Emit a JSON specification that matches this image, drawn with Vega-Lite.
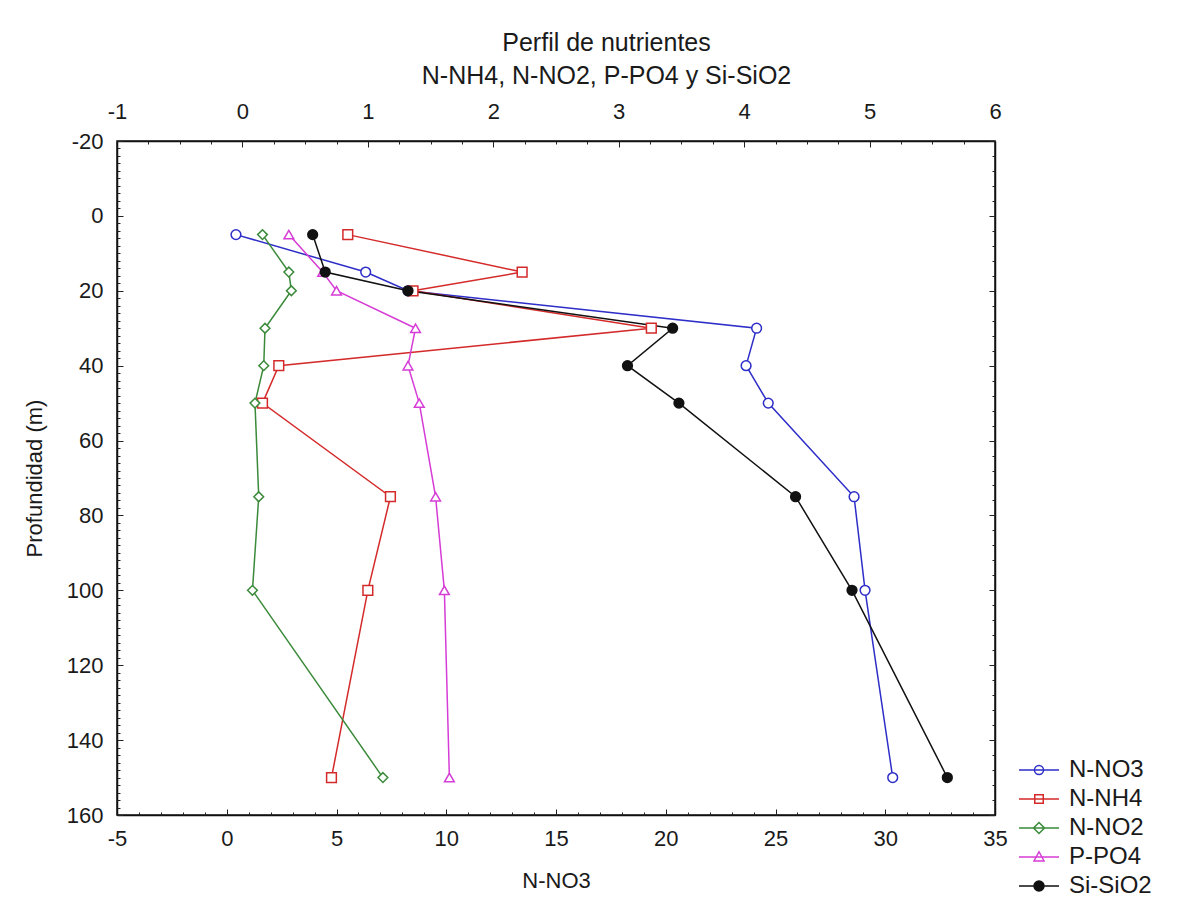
{
  "$schema": "https://vega.github.io/schema/vega-lite/v6.json",
  "autosize": "none",
  "width": 878,
  "height": 674,
  "padding": {"left": 117, "top": 141, "right": 208, "bottom": 91},
  "background": "white",
  "data": {"values": [
    {"series": "N-NO3", "depth": 5, "value": 0.42},
    {"series": "N-NO3", "depth": 15, "value": 6.33},
    {"series": "N-NO3", "depth": 20, "value": 8.26},
    {"series": "N-NO3", "depth": 30, "value": 24.14},
    {"series": "N-NO3", "depth": 40, "value": 23.66},
    {"series": "N-NO3", "depth": 50, "value": 24.67},
    {"series": "N-NO3", "depth": 75, "value": 28.58},
    {"series": "N-NO3", "depth": 100, "value": 29.08},
    {"series": "N-NO3", "depth": 150, "value": 30.34},
    {"series": "N-NH4", "depth": 5, "value": 0.84},
    {"series": "N-NH4", "depth": 15, "value": 2.23},
    {"series": "N-NH4", "depth": 20, "value": 1.36},
    {"series": "N-NH4", "depth": 30, "value": 3.26},
    {"series": "N-NH4", "depth": 40, "value": 0.29},
    {"series": "N-NH4", "depth": 50, "value": 0.16},
    {"series": "N-NH4", "depth": 75, "value": 1.18},
    {"series": "N-NH4", "depth": 100, "value": 1.0},
    {"series": "N-NH4", "depth": 150, "value": 0.71},
    {"series": "N-NO2", "depth": 5, "value": 0.16},
    {"series": "N-NO2", "depth": 15, "value": 0.37},
    {"series": "N-NO2", "depth": 20, "value": 0.39},
    {"series": "N-NO2", "depth": 30, "value": 0.18},
    {"series": "N-NO2", "depth": 40, "value": 0.17},
    {"series": "N-NO2", "depth": 50, "value": 0.1},
    {"series": "N-NO2", "depth": 75, "value": 0.13},
    {"series": "N-NO2", "depth": 100, "value": 0.08},
    {"series": "N-NO2", "depth": 150, "value": 1.12},
    {"series": "P-PO4", "depth": 5, "value": 0.37},
    {"series": "P-PO4", "depth": 15, "value": 0.64},
    {"series": "P-PO4", "depth": 20, "value": 0.75},
    {"series": "P-PO4", "depth": 30, "value": 1.38},
    {"series": "P-PO4", "depth": 40, "value": 1.32},
    {"series": "P-PO4", "depth": 50, "value": 1.41},
    {"series": "P-PO4", "depth": 75, "value": 1.54},
    {"series": "P-PO4", "depth": 100, "value": 1.61},
    {"series": "P-PO4", "depth": 150, "value": 1.65},
    {"series": "Si-SiO2", "depth": 5, "value": 0.56},
    {"series": "Si-SiO2", "depth": 15, "value": 0.66},
    {"series": "Si-SiO2", "depth": 20, "value": 1.32},
    {"series": "Si-SiO2", "depth": 30, "value": 3.43},
    {"series": "Si-SiO2", "depth": 40, "value": 3.07},
    {"series": "Si-SiO2", "depth": 50, "value": 3.48},
    {"series": "Si-SiO2", "depth": 75, "value": 4.41},
    {"series": "Si-SiO2", "depth": 100, "value": 4.86},
    {"series": "Si-SiO2", "depth": 150, "value": 5.62}
  ]},
  "layer": [
    {
      "transform": [{"filter": "datum.series == 'N-NO3'"}],
      "mark": {"type": "line", "strokeWidth": 1.5},
      "encoding": {
        "x": {"field": "value", "type": "quantitative",
              "scale": {"domain": [-5, 35], "nice": false, "zero": false},
              "axis": {"orient": "bottom", "title": "N-NO3", "values": [-5, 0, 5, 10, 15, 20, 25, 30, 35],
                       "labelExpr": "'' + datum.value", "tickSize": -6, "labelPadding": 19, "titlePadding": 21, "grid": false}},
        "y": {"field": "depth", "type": "quantitative",
              "scale": {"domain": [-20, 160], "nice": false, "zero": false, "reverse": true},
              "axis": {"orient": "left", "title": "Profundidad (m)", "values": [-20, 0, 20, 40, 60, 80, 100, 120, 140, 160],
                       "labelExpr": "'' + datum.value", "tickSize": -6, "labelPadding": 20, "titlePadding": 20, "grid": false}},
        "order": {"field": "depth", "type": "quantitative"},
        "stroke": {"field": "series", "type": "nominal",
                   "scale": {"domain": ["N-NO3", "N-NH4", "N-NO2", "P-PO4", "Si-SiO2"], "range": ["#2e2ec8", "#d42a2a", "#3a8a3a", "#d63cd6", "#111111"]},
                   "legend": null}
      }
    },
    {
      "transform": [{"filter": "datum.series == 'N-NO3'"}],
      "mark": {"type": "point", "size": 95, "strokeWidth": 1.5, "opacity": 1},
      "encoding": {
        "x": {"field": "value", "type": "quantitative",
              "scale": {"domain": [-5, 35], "nice": false, "zero": false},
              "axis": {"orient": "bottom", "title": null, "labels": false, "domain": false, "tickSize": -3, "grid": false,
                       "values": [-5,-4,-3,-2,-1,0,1,2,3,4,5,6,7,8,9,10,11,12,13,14,15,16,17,18,19,20,21,22,23,24,25,26,27,28,29,30,31,32,33,34,35]}},
        "y": {"field": "depth", "type": "quantitative",
              "scale": {"domain": [-20, 160], "nice": false, "zero": false, "reverse": true},
              "axis": {"orient": "left", "title": null, "labels": false, "domain": false, "tickSize": -3, "grid": false,
                       "values": [-20,-18,-16,-14,-12,-10,-8,-6,-4,-2,0,2,4,6,8,10,12,14,16,18,20,22,24,26,28,30,32,34,36,38,40,42,44,46,48,50,52,54,56,58,60,62,64,66,68,70,72,74,76,78,80,82,84,86,88,90,92,94,96,98,100,102,104,106,108,110,112,114,116,118,120,122,124,126,128,130,132,134,136,138,140,142,144,146,148,150,152,154,156,158,160]}},
        "shape": {"field": "series", "type": "nominal",
                  "scale": {"domain": ["N-NO3", "N-NH4", "N-NO2", "P-PO4", "Si-SiO2"], "range": ["circle", "square", "diamond", "triangle-up", "circle"]},
                  "legend": null},
        "stroke": {"field": "series", "type": "nominal",
                   "scale": {"domain": ["N-NO3", "N-NH4", "N-NO2", "P-PO4", "Si-SiO2"], "range": ["#2e2ec8", "#d42a2a", "#3a8a3a", "#d63cd6", "#111111"]},
                   "legend": null},
        "fill": {"field": "series", "type": "nominal",
                 "scale": {"domain": ["N-NO3", "N-NH4", "N-NO2", "P-PO4", "Si-SiO2"], "range": ["white", "white", "white", "white", "#111111"]},
                 "legend": null}
      }
    },
    {
      "transform": [{"filter": "datum.series != 'N-NO3'"}],
      "mark": {"type": "line", "strokeWidth": 1.5},
      "encoding": {
        "x": {"field": "value", "type": "quantitative",
              "scale": {"domain": [-1, 6], "nice": false, "zero": false},
              "axis": {"orient": "top", "title": ["Perfil de nutrientes", "N-NH4, N-NO2, P-PO4 y Si-SiO2"], "values": [-1, 0, 1, 2, 3, 4, 5, 6],
                       "labelExpr": "'' + datum.value", "tickSize": -6, "labelPadding": 24, "titleFontSize": 25,
                       "titleX": 489, "titleY": -91, "titleBaseline": "alphabetic", "titleAlign": "center", "titleAngle": 0, "titleLineHeight": 33, "grid": false}},
        "y": {"field": "depth", "type": "quantitative",
              "scale": {"domain": [-20, 160], "nice": false, "zero": false, "reverse": true},
              "axis": {"orient": "right", "title": null, "labels": false, "tickSize": -6, "grid": false,
                       "values": [-20, 0, 20, 40, 60, 80, 100, 120, 140, 160]}},
        "order": {"field": "depth", "type": "quantitative"},
        "stroke": {"field": "series", "type": "nominal",
                   "scale": {"domain": ["N-NO3", "N-NH4", "N-NO2", "P-PO4", "Si-SiO2"], "range": ["#2e2ec8", "#d42a2a", "#3a8a3a", "#d63cd6", "#111111"]},
                   "legend": null}
      }
    },
    {
      "transform": [{"filter": "datum.series != 'N-NO3'"}],
      "mark": {"type": "point", "size": 95, "strokeWidth": 1.5, "opacity": 1},
      "encoding": {
        "x": {"field": "value", "type": "quantitative",
              "scale": {"domain": [-1, 6], "nice": false, "zero": false},
              "axis": {"orient": "top", "title": null, "labels": false, "domain": false, "tickSize": -3, "grid": false,
                       "values": [-1,-0.75,-0.5,-0.25,0,0.25,0.5,0.75,1,1.25,1.5,1.75,2,2.25,2.5,2.75,3,3.25,3.5,3.75,4,4.25,4.5,4.75,5,5.25,5.5,5.75,6]}},
        "y": {"field": "depth", "type": "quantitative",
              "scale": {"domain": [-20, 160], "nice": false, "zero": false, "reverse": true},
              "axis": {"orient": "right", "title": null, "labels": false, "domain": false, "tickSize": -3, "grid": false,
                       "values": [-20,-16,-12,-8,-4,0,4,8,12,16,20,24,28,32,36,40,44,48,52,56,60,64,68,72,76,80,84,88,92,96,100,104,108,112,116,120,124,128,132,136,140,144,148,152,156,160]}},
        "shape": {"field": "series", "type": "nominal",
                  "scale": {"domain": ["N-NO3", "N-NH4", "N-NO2", "P-PO4", "Si-SiO2"], "range": ["circle", "square", "diamond", "triangle-up", "circle"]},
                  "legend": null},
        "stroke": {"field": "series", "type": "nominal",
                   "scale": {"domain": ["N-NO3", "N-NH4", "N-NO2", "P-PO4", "Si-SiO2"], "range": ["#2e2ec8", "#d42a2a", "#3a8a3a", "#d63cd6", "#111111"]},
                   "legend": null},
        "fill": {"field": "series", "type": "nominal",
                 "scale": {"domain": ["N-NO3", "N-NH4", "N-NO2", "P-PO4", "Si-SiO2"], "range": ["white", "white", "white", "white", "#111111"]},
                 "legend": null}
      }
    },
    {
      "transform": [{"filter": "datum.depth < -100"}],
      "mark": {"type": "point", "strokeWidth": 1.5, "opacity": 1},
      "encoding": {
        "x": {"field": "value", "type": "quantitative", "scale": {"domain": [-1, 6]}, "axis": null},
        "y": {"field": "depth", "type": "quantitative", "scale": {"domain": [-20, 160], "reverse": true}, "axis": null},
        "shape": {"field": "series", "type": "nominal",
                  "scale": {"domain": ["N-NO3", "N-NH4", "N-NO2", "P-PO4", "Si-SiO2"],
                            "range": ["M-4,0H4M0.9,0A0.9,0.9,0,1,1,-0.9,0A0.9,0.9,0,1,1,0.9,0Z",
                                      "M-4,0H4M-0.85,-0.85H0.85V0.85H-0.85Z",
                                      "M-4,0H4M0,-1.1L1.1,0L0,1.1L-1.1,0Z",
                                      "M-4,0H4M0,-1.05L1,0.8H-1Z",
                                      "M-4,0H4M1,0A1,1,0,1,1,-1,0A1,1,0,1,1,1,0Z"]},
                  "legend": {"title": null}},
        "stroke": {"field": "series", "type": "nominal",
                   "scale": {"domain": ["N-NO3", "N-NH4", "N-NO2", "P-PO4", "Si-SiO2"], "range": ["#2e2ec8", "#d42a2a", "#3a8a3a", "#d63cd6", "#111111"]},
                   "legend": {"title": null}},
        "fill": {"field": "series", "type": "nominal",
                 "scale": {"domain": ["N-NO3", "N-NH4", "N-NO2", "P-PO4", "Si-SiO2"], "range": ["white", "white", "white", "white", "#111111"]},
                 "legend": {"title": null}}
      }
    }
  ],
  "resolve": {
    "scale": {"x": "independent", "shape": "independent", "stroke": "independent", "fill": "independent"},
    "axis": {"x": "independent", "y": "independent"},
    "legend": {"shape": "independent", "stroke": "independent", "fill": "independent"}
  },
  "config": {
    "font": "Liberation Sans",
    "view": {"stroke": "#111111", "strokeWidth": 1.5},
    "axis": {"labelFont": "Liberation Sans", "titleFont": "Liberation Sans", "labelFontSize": 22, "titleFontSize": 22,
             "titleFontWeight": "normal", "labelColor": "#1a1a1a", "titleColor": "#1a1a1a",
             "domainColor": "#111111", "domainWidth": 1.5, "tickColor": "#222222", "tickWidth": 1, "labelFlush": false, "labelOverlap": false},
    "legend": {"orient": "none", "legendX": 910, "legendY": 617, "padding": 0, "labelFont": "Liberation Sans", "labelFontSize": 24,
               "labelColor": "#1a1a1a", "symbolSize": 100, "symbolStrokeWidth": 1.5, "labelOffset": 18, "rowPadding": 5}
  }
}
